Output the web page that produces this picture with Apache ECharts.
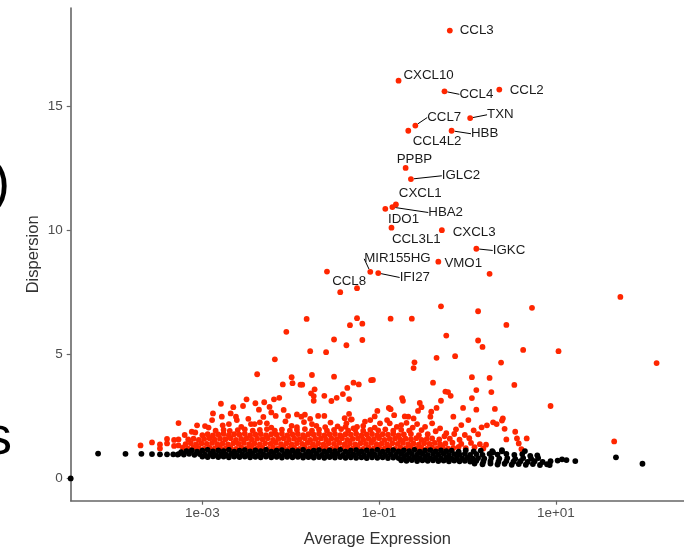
<!DOCTYPE html>
<html>
<head>
<meta charset="utf-8">
<script src="https://cdn.jsdelivr.net/npm/echarts@6/dist/echarts.min.js"></script>
<style>
  html, body { margin: 0; padding: 0; background: #fff; }
  #main { width: 684px; height: 548px; }
</style>
</head>
<body>
<div id="main"></div>
<script>
// values are [log10(average expression), dispersion]
// labelled top variable genes
var topNames = ['CCL3','CXCL10','CCL4','CCL2','CCL7','TXN','CCL4L2','HBB','PPBP','IGLC2',
  'CXCL1','HBA2','IDO1','CCL3L1','CXCL3','IGKC','VMO1','MIR155HG','IFI27','CCL8'];
var topExpr = [-0.20,-0.78,-0.26,0.36,-0.59,0.03,-0.67,-0.18,-0.70,-0.64,
  -0.81,-0.85,-0.93,-0.86,-0.29,0.10,-0.33,-1.10,-1.01,-1.44];
var topDisp = [18.06,16.04,15.61,15.68,14.23,14.53,14.02,14.02,12.52,12.07,
  11.05,10.94,10.87,10.11,10.01,9.26,8.74,8.33,8.28,7.51];

// other variable (red) genes
var varGenes = [
  [-1.59,8.34],[-1.25,7.67],[0.25,8.25],
  [-1.82,6.43],[-1.25,6.46],[-1.33,6.18],[-2.05,5.91],[-1.51,5.60],[-1.37,5.37],[-1.78,5.13],[-1.60,5.09],
  [-2.18,4.80],[-1.51,4.10],[-2.38,4.20],[-1.99,4.08],[-1.76,4.17],[-1.29,3.86],[-1.23,3.79],[-2.09,3.79],
  [-1.98,3.84],[-1.89,3.78],[-1.87,3.78],[-1.73,3.59],[-1.36,3.65],[-1.77,3.43],[-1.74,3.32],[-1.62,3.33],
  [-1.74,3.13],[-1.48,3.25],[-1.41,3.40],[-1.34,3.20],[-1.54,3.12],[-2.50,3.19],[-2.19,3.19],[-2.13,3.25],
  [-2.40,3.03],[-2.30,3.07],[-2.24,2.88],[-2.54,2.92],[-2.65,2.87],[-2.79,3.01],[-2.22,2.66],[-2.36,2.77],
  [-2.08,2.76],[-2.17,2.52],[-2.03,2.52],[-1.93,2.58],[-1.88,2.49],[-1.84,2.57],[-1.69,2.52],[-1.62,2.52],
  [-1.39,2.43],[-1.32,2.37],[-2.68,2.62],[-2.88,2.62],[-2.78,2.49],[-2.62,2.49],[-2.61,2.35],[-2.89,2.35],
  [-3.27,2.23],[-3.06,2.14],[-2.97,2.11],[-2.77,2.14],[-2.70,2.19],[-2.45,2.19],[-2.41,2.19],[-2.35,2.26],
  [-2.27,2.22],[-1.99,2.12],[-1.93,2.07],[-1.76,2.19],[-1.71,2.12],[-1.61,2.07],[-1.38,2.08],[-1.29,2.02],
  [-3.70,1.33],[-3.57,1.45],[-3.48,1.37],[-3.40,1.59],[-3.32,1.55],[-3.27,1.57],[-3.48,1.21],[-3.40,1.41],
  [-3.32,1.31],[-3.27,1.33],
  [1.73,7.32],[0.73,6.88],[-0.30,6.94],[0.12,6.74],[-0.87,6.44],[-0.63,6.44],[-1.19,6.24],[0.44,6.19],
  [-0.24,5.76],[-1.19,5.58],[0.12,5.56],[0.17,5.30],[0.63,5.18],[1.03,5.13],[-0.35,4.86],[-0.14,4.93],
  [-0.60,4.68],[-0.61,4.45],[0.38,4.67],[2.14,4.65],[0.05,4.08],[0.25,4.05],[-1.09,3.96],[-1.07,3.97],
  [-0.39,3.86],[0.53,3.77],[-0.25,3.50],[-0.22,3.48],[-0.19,3.33],[0.10,3.56],[0.27,3.48],[-0.74,3.24],
  [-0.73,3.13],[0.05,3.24],[-0.30,3.13],[-0.54,3.04],[0.94,2.92],[-1.02,2.72],[-0.89,2.84],[-0.87,2.79],
  [-0.52,2.87],[-0.35,2.84],[-0.56,2.72],[-0.41,2.69],[-0.05,2.84],[0.10,2.77],[0.31,2.80],[-1.34,2.60],
  [-1.31,2.38],[-0.71,2.50],[-0.67,2.49],[-0.61,2.42],[-0.42,2.49],[-0.16,2.49],[0.01,2.35],[0.29,2.26],
  [0.40,2.42],[0.39,2.33],[-0.07,2.15],[0.22,2.14],[0.16,2.06],[0.33,2.19],[0.42,2.00],[0.54,1.88],
  [0.07,1.94],[0.12,1.78],[-0.24,1.82],[-0.15,1.79],[-0.03,1.75],[0.44,1.57],[0.56,1.61],[0.67,1.61],
  [0.58,1.41],[0.21,1.36],[0.61,1.18],[1.66,1.49],
  [-1.37,2.22],[-1.25,2.08],[-1.16,2.29],[-1.10,2.35],[-0.99,2.22],[-0.91,2.35],[-0.88,2.22],[-0.80,2.08],
  [-0.69,2.24],[-0.57,2.19],[-0.48,2.08],[-0.40,2.22],[-0.31,2.02],
  [-3.12,1.88],[-2.93,2.05],[-2.56,2.08],[-2.22,2.05],[-2.06,2.30],[-1.85,2.27],[-1.55,2.25],[-1.47,2.10],
  [-1.18,2.12],[-1.05,2.05],[-0.75,2.15],[-0.62,2.05],[-0.52,1.95],[-0.36,1.90],[-0.26,1.70],[-0.13,1.98],
  [-2.48,2.40],[-1.78,2.40],[-1.05,2.50],[-0.83,2.55],[-2.31,2.48],[-3.08,1.85],[-3.20,1.75],
  // dense band of variable genes
  [-3.22,1.24],[-3.16,1.20],[-3.10,1.25],[-3.04,1.22],[-2.98,1.19],[-2.92,1.24],[-2.86,1.21],[-2.80,1.25],
  [-2.74,1.20],[-2.68,1.23],[-2.62,1.19],[-2.56,1.24],[-2.50,1.21],[-2.44,1.25],[-2.38,1.20],[-2.32,1.23],
  [-2.26,1.19],[-2.20,1.24],[-2.14,1.21],[-2.08,1.25],[-2.02,1.20],[-1.96,1.23],[-1.90,1.19],[-1.84,1.24],
  [-1.78,1.21],[-1.72,1.25],[-1.66,1.20],[-1.60,1.23],[-1.54,1.19],[-1.48,1.24],[-1.42,1.21],[-1.36,1.25],
  [-1.30,1.20],[-1.24,1.23],[-1.18,1.19],[-1.12,1.24],[-1.06,1.21],[-1.00,1.25],[-0.94,1.20],[-0.88,1.23],
  [-0.82,1.19],[-0.76,1.24],[-0.70,1.21],[-0.64,1.25],[-0.58,1.20],[-0.52,1.23],[-0.46,1.19],[-0.40,1.24],
  [-0.34,1.21],[-0.28,1.25],[-0.22,1.20],[-0.16,1.23],[-0.10,1.27],[-0.02,1.22],[0.08,1.26],[0.18,1.21],
  [-3.19,1.38],[-3.13,1.42],[-3.07,1.37],[-3.01,1.41],[-2.95,1.39],[-2.89,1.43],[-2.83,1.38],[-2.77,1.41],
  [-2.71,1.37],[-2.65,1.42],[-2.59,1.39],[-2.53,1.43],[-2.47,1.38],[-2.41,1.41],[-2.35,1.37],[-2.29,1.42],
  [-2.23,1.39],[-2.17,1.43],[-2.11,1.38],[-2.05,1.41],[-1.99,1.37],[-1.93,1.42],[-1.87,1.39],[-1.81,1.43],
  [-1.75,1.38],[-1.69,1.41],[-1.63,1.37],[-1.57,1.42],[-1.51,1.39],[-1.45,1.43],[-1.39,1.38],[-1.33,1.41],
  [-1.27,1.37],[-1.21,1.42],[-1.15,1.39],[-1.09,1.43],[-1.03,1.38],[-0.97,1.41],[-0.91,1.37],[-0.85,1.42],
  [-0.79,1.39],[-0.73,1.43],[-0.67,1.38],[-0.61,1.41],[-0.55,1.37],[-0.49,1.42],[-0.43,1.39],[-0.37,1.43],
  [-0.31,1.38],[-0.25,1.41],[-0.17,1.44],[-0.07,1.39],[0.04,1.43],[0.14,1.38],
  [-3.16,1.57],[-3.10,1.60],[-3.04,1.55],[-2.98,1.59],[-2.92,1.62],[-2.86,1.56],[-2.80,1.60],[-2.74,1.58],
  [-2.68,1.62],[-2.62,1.55],[-2.56,1.59],[-2.50,1.61],[-2.44,1.56],[-2.38,1.60],[-2.32,1.58],[-2.26,1.62],
  [-2.20,1.55],[-2.14,1.59],[-2.08,1.61],[-2.02,1.56],[-1.96,1.60],[-1.90,1.58],[-1.84,1.62],[-1.78,1.55],
  [-1.72,1.59],[-1.66,1.61],[-1.60,1.56],[-1.54,1.60],[-1.48,1.58],[-1.42,1.62],[-1.36,1.55],[-1.30,1.59],
  [-1.24,1.61],[-1.18,1.56],[-1.12,1.60],[-1.06,1.58],[-1.00,1.62],[-0.94,1.55],[-0.88,1.59],[-0.82,1.61],
  [-0.76,1.56],[-0.70,1.60],[-0.64,1.58],[-0.58,1.62],[-0.52,1.55],[-0.46,1.59],[-0.40,1.61],[-0.32,1.57],
  [-0.20,1.60],[-0.09,1.56],[0.02,1.62],
  [-3.00,1.74],[-2.94,1.78],[-2.88,1.73],[-2.82,1.77],[-2.76,1.80],[-2.70,1.74],[-2.64,1.78],[-2.58,1.76],
  [-2.52,1.80],[-2.46,1.73],[-2.40,1.77],[-2.34,1.79],[-2.28,1.74],[-2.22,1.78],[-2.16,1.76],[-2.10,1.80],
  [-2.04,1.73],[-1.98,1.77],[-1.92,1.79],[-1.86,1.74],[-1.80,1.78],[-1.74,1.76],[-1.68,1.80],[-1.62,1.73],
  [-1.56,1.77],[-1.50,1.79],[-1.44,1.74],[-1.38,1.78],[-1.32,1.76],[-1.26,1.80],[-1.20,1.73],[-1.14,1.77],
  [-1.08,1.79],[-1.02,1.74],[-0.96,1.78],[-0.90,1.76],[-0.84,1.80],[-0.78,1.73],[-0.72,1.77],[-0.64,1.79],
  [-0.55,1.74],[-0.45,1.78],
  [-2.85,1.92],[-2.76,1.96],[-2.69,1.91],[-2.60,1.95],[-2.52,1.98],[-2.43,1.92],[-2.35,1.96],[-2.27,1.99],
  [-2.18,1.93],[-2.10,1.97],[-2.01,1.92],[-1.93,1.96],[-1.84,1.99],[-1.76,1.93],[-1.68,1.97],[-1.59,1.92],
  [-1.51,1.96],[-1.43,1.99],[-1.35,1.93],[-1.27,1.97],[-1.18,1.92],[-1.10,1.96],[-1.01,1.94],[-0.93,1.98],
  [-0.84,1.92],[-0.75,1.96],[-0.66,1.93]
];

// non-variable (black) genes
var otherGenes = [
  [-4.49,0],
  [-4.18,1.00],[-3.87,0.99],[-3.69,0.99],[-3.57,0.98],[-3.48,0.97],[-3.40,0.97],[-3.33,0.97],[-3.28,0.96],
  [-3.24,1.06],[-3.18,1.10],[-3.12,1.13],[-3.06,1.08],[-3.00,1.12],[-2.94,1.15],[-2.88,1.09],[-2.82,1.13],
  [-2.76,1.10],[-2.70,1.15],[-2.64,1.08],[-2.58,1.12],[-2.52,1.14],[-2.46,1.09],[-2.40,1.13],[-2.34,1.10],
  [-2.28,1.15],[-2.22,1.08],[-2.16,1.12],[-2.10,1.14],[-2.04,1.09],[-1.98,1.13],[-1.92,1.10],[-1.86,1.15],
  [-1.80,1.08],[-1.74,1.12],[-1.68,1.14],[-1.62,1.09],[-1.56,1.13],[-1.50,1.10],[-1.44,1.15],[-1.38,1.08],
  [-1.32,1.12],[-1.26,1.14],[-1.20,1.09],[-1.14,1.13],[-1.08,1.10],[-1.02,1.15],[-0.96,1.08],[-0.90,1.12],
  [-0.84,1.14],[-0.78,1.09],[-0.72,1.13],[-0.66,1.10],[-0.60,1.15],[-0.54,1.08],[-0.48,1.12],[-0.42,1.14],
  [-0.36,1.09],[-0.30,1.13],[-0.24,1.10],[-0.18,1.12],[-0.10,1.08],[-0.02,1.13],[0.07,1.09],[0.15,1.12],
  [0.28,1.10],[0.39,1.14],
  [-3.27,0.98],[-3.21,0.96],[-3.15,0.99],[-3.09,0.95],[-3.03,0.98],[-2.97,0.96],[-2.91,0.99],[-2.85,0.95],
  [-2.79,0.98],[-2.73,0.96],[-2.67,0.99],[-2.61,0.95],[-2.55,0.98],[-2.49,0.96],[-2.43,0.99],[-2.37,0.95],
  [-2.31,0.98],[-2.25,0.96],[-2.19,0.99],[-2.13,0.95],[-2.07,0.98],[-2.01,0.96],[-1.95,0.99],[-1.89,0.95],
  [-1.83,0.98],[-1.77,0.96],[-1.71,0.99],[-1.65,0.95],[-1.59,0.98],[-1.53,0.96],[-1.47,0.99],[-1.41,0.95],
  [-1.35,0.98],[-1.29,0.96],[-1.23,0.99],[-1.17,0.95],[-1.11,0.98],[-1.05,0.96],[-0.99,0.99],[-0.93,0.95],
  [-0.87,0.98],[-0.81,0.96],[-0.75,0.99],[-0.69,0.95],[-0.63,0.98],[-0.57,0.96],[-0.51,0.99],[-0.45,0.95],
  [-0.39,0.98],[-0.33,0.96],[-0.27,0.99],[-0.21,0.95],[-0.15,0.98],[-0.09,0.96],[-0.03,0.99],[0.03,0.95],
  [0.10,0.98],[0.17,0.95],[0.25,0.99],[0.34,0.96],[0.44,0.99],[0.53,0.95],[0.62,0.98],
  [-3.00,0.88],[-2.94,0.86],[-2.88,0.89],[-2.82,0.86],[-2.76,0.88],[-2.70,0.85],[-2.64,0.88],[-2.58,0.86],
  [-2.52,0.88],[-2.46,0.85],[-2.40,0.87],[-2.34,0.85],[-2.28,0.88],[-2.22,0.85],[-2.16,0.87],[-2.10,0.84],
  [-2.04,0.87],[-1.98,0.85],[-1.92,0.87],[-1.86,0.84],[-1.80,0.86],[-1.74,0.84],[-1.68,0.86],[-1.62,0.83],
  [-1.56,0.86],[-1.50,0.84],[-1.44,0.86],[-1.38,0.83],[-1.32,0.85],[-1.26,0.83],[-1.20,0.85],[-1.14,0.82],
  [-1.08,0.85],[-1.02,0.83],[-0.96,0.85],[-0.90,0.82],[-0.84,0.84],[-0.78,0.82],[-0.72,0.84],[-0.66,0.81],
  [-0.60,0.84],[-0.54,0.82],[-0.48,0.84],[-0.42,0.81],[-0.36,0.83],[-0.30,0.81],[-0.24,0.83],[-0.18,0.80],
  [-0.12,0.83],[-0.06,0.81],[0.00,0.83],[0.06,0.80],[0.12,0.82],[0.19,0.80],[0.27,0.83],[0.36,0.80],
  [0.45,0.82],[0.54,0.79],[0.63,0.82],[0.72,0.80],[0.80,0.82],
  [-0.75,0.73],[-0.69,0.71],[-0.63,0.74],[-0.57,0.70],[-0.51,0.73],[-0.45,0.71],[-0.39,0.73],[-0.33,0.70],
  [-0.27,0.72],[-0.21,0.69],[-0.15,0.72],[-0.09,0.69],[-0.03,0.71],[0.03,0.68],[0.10,0.71],[0.18,0.68],
  [0.26,0.70],[0.35,0.67],[0.44,0.70],[0.52,0.67],[0.60,0.69],[0.68,0.66],[0.76,0.69],[0.85,0.66],
  [0.94,0.69],[1.02,0.72],
  [0.08,0.60],[0.17,0.57],[0.26,0.60],[0.34,0.56],[0.42,0.59],[0.50,0.55],[0.58,0.58],[0.66,0.55],
  [0.74,0.58],[0.82,0.54],[0.90,0.57],
  [1.07,0.77],[1.12,0.74],[1.22,0.70],[1.68,0.85],[1.98,0.59],
  [0.29,1.05],[0.39,1.09],[0.65,1.10],[0.71,0.91],[0.79,0.93],[0.93,0.54]
];

var xTicks = [1e-3, 1e-1, 1e1];
var yTicks = [0, 5, 10, 15];

// label nudges in px from the default right-hand position, and whether a segment is drawn
var labelNudge = {
  CCL3: [2, 0, 0], CXCL10: [-3, -5, 0], CCL4: [7, 3, 1], CCL2: [2.5, 0.7, 0],
  CCL7: [4, -8, 1], TXN: [9, -3.3, 1], CCL4L2: [-3.5, 10.7, 0], HBB: [11.5, 3, 1],
  PPBP: [-16.8, -8.3, 0], IGLC2: [23, -3.3, 1], CXCL1: [-5, -11.4, 0], HBA2: [28, 5.4, 1],
  IDO1: [-5.2, 10.3, 0], CCL3L1: [-7.5, 12, 0], CXCL3: [3, 2, 0], IGKC: [8.5, 1.7, 1],
  VMO1: [-1.8, 1.6, 0], MIR155HG: [-14, -13, 1], IFI27: [13.5, 4.4, 1], CCL8: [-16, -10.6, 0]
};

function toXY(p) { return [Math.pow(10, p[0]), p[1]]; }

function expLabel(v) {
  var e = Math.round(Math.log10(v));
  var s = String(Math.abs(e));
  if (s.length < 2) s = '0' + s;
  return '1e' + (e < 0 ? '-' : '+') + s;
}

var topData = topNames.map(function (n, i) {
  return {
    name: n,
    value: [Math.pow(10, topExpr[i]), topDisp[i]],
    labelLine: { show: labelNudge[n][2] === 1 }
  };
});

var myChart = echarts.init(document.getElementById('main'));
var axisColor = '#666666';
var font = 'Liberation Sans';
var dot = 5.8;

option = {
  animation: false,
  backgroundColor: '#ffffff',
  grid: { left: 70.7, right: 0, top: 8, bottom: 47.3, containLabel: false, outerBoundsMode: 'none' },
  xAxis: {
    type: 'log',
    logBase: 10,
    min: Math.pow(10, -4.49),
    max: Math.pow(10, 2.45),
    name: 'Average Expression',
    nameLocation: 'middle',
    nameGap: 30,
    nameMoveOverlap: false,
    nameTextStyle: { color: '#333', fontSize: 16.5, fontFamily: font },
    axisLine: { onZero: false, lineStyle: { color: axisColor, width: 1.6 } },
    axisTick: { customValues: xTicks, length: 4, lineStyle: { color: axisColor, width: 1.2 } },
    axisLabel: {
      customValues: xTicks, formatter: expLabel, margin: 6,
      color: '#4d4d4d', fontSize: 13.5, fontFamily: font
    },
    splitLine: { show: false },
    minorTick: { show: false }
  },
  yAxis: {
    type: 'value',
    min: -0.9,
    max: 18.97,
    name: 'Dispersion',
    nameLocation: 'middle',
    nameRotate: 90,
    nameGap: 29,
    nameMoveOverlap: false,
    nameTextStyle: { color: '#333', fontSize: 16.5, fontFamily: font },
    axisLine: { show: true, onZero: false, lineStyle: { color: axisColor, width: 1.6 } },
    axisTick: { show: true, customValues: yTicks, length: 4, lineStyle: { color: axisColor, width: 1.2 } },
    axisLabel: {
      customValues: yTicks, margin: 8,
      color: '#4d4d4d', fontSize: 13.5, fontFamily: font
    },
    splitLine: { show: false }
  },
  graphic: [
    { type: 'text', left: -8, top: 158,
      style: { text: ')', fontSize: 54, fontFamily: font, fill: '#000' } },
    { type: 'text', left: -15, top: 412,
      style: { text: 's', fontSize: 54, fontFamily: font, fill: '#000' } }
  ],
  series: [
    {
      type: 'scatter', symbolSize: dot, silent: true,
      itemStyle: { color: '#ff2600', opacity: 1 },
      data: varGenes.map(toXY)
    },
    {
      type: 'scatter', symbolSize: dot, silent: true,
      itemStyle: { color: '#000000', opacity: 1 },
      data: otherGenes.map(toXY)
    },
    {
      type: 'scatter', symbolSize: dot, silent: true,
      itemStyle: { color: '#ff2600', opacity: 1 },
      data: topData,
      label: {
        show: true, position: 'right', distance: 5,
        formatter: '{b}', color: '#1a1a1a', fontSize: 13.3, fontFamily: font
      },
      labelLine: { lineStyle: { color: '#000', width: 1 } },
      labelLayout: function (params) {
        var n = topNames[params.dataIndex];
        return { dx: labelNudge[n][0], dy: labelNudge[n][1] };
      }
    }
  ]
};

myChart.setOption(option);
</script>
</body>
</html>
